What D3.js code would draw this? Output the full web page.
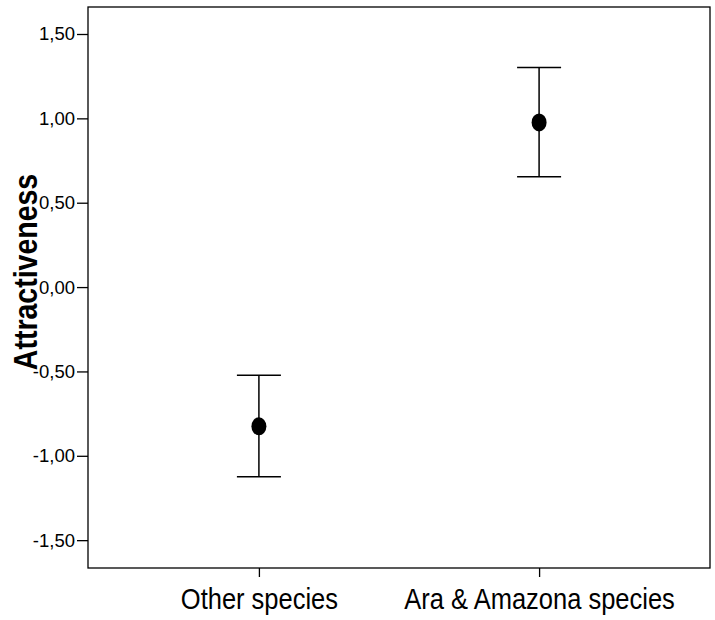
<!DOCTYPE html>
<html><head><meta charset="utf-8">
<script src="https://cdn.jsdelivr.net/npm/d3@7"></script>
<style>html,body{margin:0;padding:0;background:#fff;}svg{display:block;}</style>
</head><body>
<script>
const categories = ["Other species", "Ara & Amazona species"];
const means = [-0.825, 0.976];
const lowerCI = [-1.124, 0.654];
const upperCI = [-0.522, 1.302];
const yTickValues = [-1.5, -1.0, -0.5, 0.0, 0.5, 1.0, 1.5];
const yTitle = "Attractiveness";

const W = 715, H = 620;
const plot = {left: 88, right: 710, top: 7, bottom: 568};
const FONT = "Liberation Sans, Arial, sans-serif";
const svg = d3.select("body").append("svg").attr("width", W).attr("height", H);

const y = d3.scaleLinear().domain([-1.665, 1.66]).range([plot.bottom, plot.top]);
const x = d3.scalePoint().domain(categories).range([plot.left, plot.right]).padding(0.61);

const fmt = v => d3.format(".2f")(v).replace(".", ",").replace("−", "-");

svg.append("rect").attr("x", plot.left).attr("y", plot.top)
  .attr("width", plot.right - plot.left).attr("height", plot.bottom - plot.top)
  .attr("fill", "none").attr("stroke", "#000").attr("stroke-width", 1.3);

const yAxis = svg.append("g").attr("transform", `translate(${plot.left},0)`)
  .call(d3.axisLeft(y).tickValues(yTickValues).tickFormat(fmt).tickSizeOuter(0).tickSize(11).tickPadding(2));
yAxis.select(".domain").remove();
yAxis.selectAll("line").attr("stroke", "#000").attr("stroke-width", 1.3);
yAxis.selectAll("text").attr("font-family", FONT).attr("font-size", 18.5).attr("fill", "#000");

const xAxis = svg.append("g").attr("transform", `translate(0,${plot.bottom})`)
  .call(d3.axisBottom(x).tickSizeOuter(0).tickSize(9));
xAxis.select(".domain").remove();
xAxis.selectAll("line").attr("stroke", "#000").attr("stroke-width", 1.3);
xAxis.selectAll("text").attr("font-family", FONT).attr("font-size", 25).attr("fill", "#000")
  .attr("y", 0).attr("dy", 0).attr("transform", "translate(0,41) scale(1.02,1.15)");

svg.append("text").attr("transform", `translate(37,272) scale(1.18,1) rotate(-90)`)
  .attr("text-anchor", "middle").attr("font-family", FONT)
  .attr("font-weight", "bold").attr("font-size", 28.5).text(yTitle);

const g = svg.append("g");
categories.forEach((c, i) => {
  const cx = x(c);
  g.append("line").attr("x1", cx).attr("x2", cx).attr("y1", y(lowerCI[i])).attr("y2", y(upperCI[i]))
    .attr("stroke", "#000").attr("stroke-width", 1.5);
  [lowerCI[i], upperCI[i]].forEach(v => {
    g.append("line").attr("x1", cx - 22).attr("x2", cx + 22).attr("y1", y(v)).attr("y2", y(v))
      .attr("stroke", "#000").attr("stroke-width", 1.5);
  });
  g.append("ellipse").attr("cx", cx).attr("cy", y(means[i])).attr("rx", 7.5).attr("ry", 9).attr("fill", "#000");
});
</script>
</body></html>
